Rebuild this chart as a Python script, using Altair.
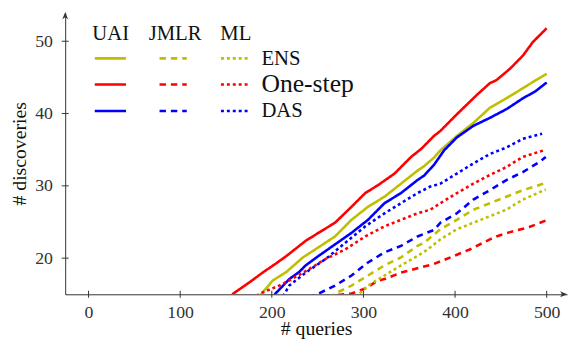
import altair as alt
import pandas as pd

# ---------------- data ----------------
methods = ["ENS", "One-step", "DAS"]
datasets = ["UAI", "JMLR", "ML"]
method_colors = ["#bfbf00", "#ff0000", "#0000ff"]

uai_ens_x = [182, 189, 201, 216, 234, 251, 269, 287, 305, 323, 341, 359, 366, 377, 384, 402, 420, 438, 456, 474, 488, 500]
uai_ens_y = [14.0, 15.1, 16.9, 18.1, 20.1, 21.5, 23.0, 25.3, 27.1, 28.5, 30.3, 32.1, 32.7, 33.9, 34.9, 36.9, 38.7, 40.8, 42.1, 43.5, 44.6, 45.5]

uai_one_x = [150, 158, 175, 190, 205, 216, 230, 237, 251, 269, 287, 302, 316, 334, 352, 363, 377, 384, 402, 424, 438, 445, 460, 474, 485, 500]
uai_one_y = [14.0, 15.1, 16.6, 18.0, 19.3, 20.3, 21.7, 22.4, 23.5, 24.9, 27.1, 29.0, 30.1, 31.7, 34.0, 35.1, 36.9, 37.6, 39.9, 42.6, 44.2, 44.6, 46.2, 48.0, 49.9, 51.8]

uai_das_x = [198, 204, 219, 230, 237, 251, 269, 287, 305, 323, 341, 359, 366, 377, 388, 402, 420, 438, 456, 474, 488, 500]
uai_das_y = [14.0, 15.1, 17.1, 18.1, 19.0, 20.3, 21.9, 23.5, 25.3, 27.6, 29.0, 30.8, 31.4, 32.9, 34.9, 36.7, 38.3, 39.4, 40.6, 42.1, 43.1, 44.3]

jmlr_ens_x = [262, 269, 287, 305, 323, 341, 359, 366, 384, 402, 420, 438, 456, 474, 499]
jmlr_ens_y = [14.5, 15.1, 16.2, 17.6, 19.0, 20.1, 21.7, 22.1, 24.0, 25.3, 26.7, 27.6, 28.5, 29.4, 30.4]

jmlr_one_x = [272, 287, 302, 316, 323, 341, 359, 377, 395, 416, 438, 445, 460, 481, 499]
jmlr_one_y = [14.9, 15.1, 15.8, 16.9, 17.1, 18.0, 18.6, 19.2, 20.1, 21.2, 22.6, 23.0, 23.6, 24.3, 25.2]

jmlr_das_x = [240, 251, 269, 287, 305, 323, 341, 359, 377, 384, 402, 420, 438, 456, 474, 492, 499]
jmlr_das_y = [14.6, 15.1, 16.2, 17.6, 19.4, 20.8, 21.7, 23.0, 23.9, 24.9, 26.2, 28.1, 29.4, 30.8, 31.9, 33.3, 34.0]

ml_ens_x = [285, 294, 305, 323, 341, 359, 370, 384, 402, 420, 438, 456, 474, 499]
ml_ens_y = [14.3, 14.9, 16.2, 17.6, 19.0, 20.3, 21.2, 22.6, 24.0, 24.9, 25.8, 26.7, 28.1, 29.5]

ml_one_x = [178, 187, 208, 216, 237, 259, 280, 302, 323, 341, 359, 373, 384, 402, 420, 438, 456, 474, 499]
ml_one_y = [14.3, 15.1, 16.2, 16.7, 18.2, 19.9, 21.2, 23.0, 24.4, 25.3, 26.2, 26.7, 27.6, 29.0, 30.3, 31.5, 32.6, 34.0, 35.0]

ml_das_x = [209, 214, 219, 237, 259, 280, 302, 323, 341, 359, 373, 384, 402, 420, 438, 456, 474, 495]
ml_das_y = [14.0, 15.1, 16.2, 18.0, 19.9, 22.1, 24.4, 26.2, 27.6, 29.0, 29.9, 30.3, 31.7, 33.1, 34.4, 35.3, 36.5, 37.2]

x_ticks = [0, 100, 200, 300, 400, 500]
y_ticks = [20, 30, 40, 50]

series = [
    ("UAI", "ENS", uai_ens_x, uai_ens_y),
    ("UAI", "One-step", uai_one_x, uai_one_y),
    ("UAI", "DAS", uai_das_x, uai_das_y),
    ("JMLR", "ENS", jmlr_ens_x, jmlr_ens_y),
    ("JMLR", "One-step", jmlr_one_x, jmlr_one_y),
    ("JMLR", "DAS", jmlr_das_x, jmlr_das_y),
    ("ML", "ENS", ml_ens_x, ml_ens_y),
    ("ML", "One-step", ml_one_x, ml_one_y),
    ("ML", "DAS", ml_das_x, ml_das_y),
]

rows = []
for ds, m, xs, ys in series:
    for i, (a, b) in enumerate(zip(xs, ys)):
        rows.append({"series": ds + " " + m, "dataset": ds, "method": m, "q": a, "d": b, "i": i})
df = pd.DataFrame(rows)

# ---------------- layout / style ----------------
PLOT_W, PLOT_H = 509, 286
XMIN, XMAX = -25.5, 522.2
YMIN, YMAX = 15.0, 54.0
FONT = "Liberation Serif"
AX = "#333333"
LW = 2.6
dash_range = [[1, 0], [6.5, 5], [3, 3]]


def px_x(p):
    return XMIN + p * (XMAX - XMIN) / PLOT_W


def px_y(p):
    return YMAX - p * (YMAX - YMIN) / PLOT_H


xscale = alt.Scale(domain=[XMIN, XMAX], nice=False, zero=False, padding=0)
yscale = alt.Scale(domain=[YMIN, YMAX], nice=False, zero=False, padding=0)
cscale = alt.Scale(domain=methods, range=method_colors)
dscale = alt.Scale(domain=datasets, range=dash_range)


def X(field="q"):
    return alt.X(field + ":Q", scale=xscale, axis=alt.Axis(values=x_ticks), title="# queries")


def Y(field="d"):
    return alt.Y(field + ":Q", scale=yscale, axis=alt.Axis(values=y_ticks), title="# discoveries")


lines = alt.Chart(df).mark_line(clip=True, strokeWidth=LW).encode(
    x=X(), y=Y(),
    color=alt.Color("method:N", scale=cscale, legend=None),
    strokeDash=alt.StrokeDash("dataset:N", scale=dscale, legend=None),
    detail="series:N",
    order="i:Q",
)

xt = alt.Chart(pd.DataFrame({"q": x_ticks, "d": [YMIN] * len(x_ticks)})).mark_tick(
    orient="vertical", size=7, thickness=1, color=AX, opacity=1
).encode(x=X(), y=Y())

yt = alt.Chart(pd.DataFrame({"q": [XMIN] * len(y_ticks), "d": y_ticks})).mark_tick(
    orient="horizontal", size=7, thickness=1, color=AX, opacity=1
).encode(x=X(), y=Y())

arrow_path = "M0,0 L-2,-0.85 L-1.45,0 L-2,0.85 Z"
arrows = alt.Chart(pd.DataFrame({"q": [XMAX, XMIN], "d": [YMIN, YMAX], "a": [0, 270]})).mark_point(
    shape=arrow_path, filled=True, color=AX, size=49, strokeWidth=0, opacity=1
).encode(x=X(), y=Y(), angle=alt.Angle("a:Q", scale=None))

# ---------------- custom legend table ----------------
col_x0 = {"UAI": 30, "JMLR": 95.7, "ML": 158}
col_x1 = {"UAI": 61.7, "JMLR": 123.3, "ML": 187.3}
row_y = {"ENS": 46.7, "One-step": 73.3, "DAS": 100}
leg_rows = []
for ds in datasets:
    for m in methods:
        leg_rows.append({"dataset": ds, "method": m, "q": px_x(col_x0[ds]), "q2": px_x(col_x1[ds]),
                         "d": px_y(row_y[m])})
leg_lines = alt.Chart(pd.DataFrame(leg_rows)).mark_rule(strokeWidth=LW).encode(
    x=X(), x2="q2:Q", y=Y(),
    color=alt.Color("method:N", scale=cscale, legend=None),
    strokeDash=alt.StrokeDash("dataset:N", scale=dscale, legend=None),
)

head_cx = {"UAI": 46.2, "JMLR": 111.5, "ML": 173}
heads = pd.DataFrame({"t": datasets, "q": [px_x(head_cx[d]) for d in datasets],
                      "d": [px_y(28)] * 3})
head_text = alt.Chart(heads).mark_text(font=FONT, fontSize=21, align="center", baseline="alphabetic",
                                       color="#111111").encode(x=X(), y=Y(), text="t:N")

lab_base = {"ENS": 53.3, "One-step": 81, "DAS": 106}
lab_size = {"ENS": 21, "One-step": 26, "DAS": 21}
labs = pd.DataFrame({"t": methods, "q": [px_x(199)] * 3,
                     "d": [px_y(lab_base[m]) for m in methods],
                     "fs": [lab_size[m] for m in methods]})
lab_text = alt.Chart(labs).mark_text(font=FONT, align="left", baseline="alphabetic",
                                     color="#111111").encode(
    x=X(), y=Y(), text="t:N",
    size=alt.Size("fs:Q", scale=None, legend=None))

chart = alt.layer(lines, xt, yt, arrows, leg_lines, head_text, lab_text).properties(
    width=PLOT_W, height=PLOT_H,
    autosize=alt.AutoSizeParams(type="none"),
    padding={"left": 58, "top": 2, "right": 2, "bottom": 45},
    background="white",
).configure_view(
    strokeWidth=0
).configure_axis(
    ticks=False, tickSize=0, grid=False, domainColor=AX, domainWidth=1,
    labelFont=FONT, labelFontSize=18, labelColor=AX,
    titleFont=FONT, titleFontSize=20, titleFontWeight="normal", titleColor="#111111",
    titleBaseline="alphabetic",
).configure_axisX(
    labelPadding=9.5, titleY=40.5,
).configure_axisY(
    labelPadding=13, titleAngle=270, titleX=-40, titleY=PLOT_H / 2,
)

chart.save("out.html", embed_options={"renderer": "svg", "actions": False})
